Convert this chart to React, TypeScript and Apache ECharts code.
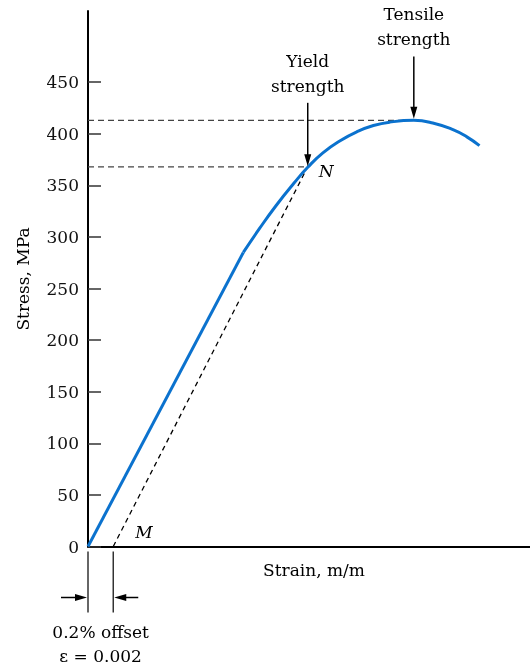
import { useEffect, useRef } from 'react';
import * as echarts from 'echarts';

// Elastic (straight) part of the curve
const elasticStrain = [0, 0.0123];
const elasticStress = [0, 285];
// Plastic (curved) part of the curve
const plasticStrain = [0.0123, 0.0136, 0.0149, 0.0163, 0.0174, 0.0186, 0.02, 0.0213, 0.0226, 0.0239, 0.0258, 0.0273, 0.0289, 0.03, 0.031];
const plasticStress = [285, 308.5, 330.5, 352, 367.5, 381.5, 393.5, 402, 408, 411.3, 413, 410.5, 404, 397, 388.5];
// 0.2% offset line M -> N
const offsetStrain = [0.002, 0.0174];
const offsetStress = [0, 368];
// Key points
const yieldStrain = 0.0174;
const yieldStress = 368;
const tensileStrain = 0.0258;
const tensileStress = 413;
const yieldArrowTail = 430;
const tensileArrowTail = 475;
const offsetValue = 0.002;
// Axis
const stressTicks = [0, 50, 100, 150, 200, 250, 300, 350, 400, 450];
const strainMax = 0.035;
const stressMax = 519;

const FONT = '"DejaVu Serif", serif';
const BLUE = '#0b72ce';
const INK = '#000';

const zip = (a: number[], b: number[]) => a.map((v, i) => [v, b[i]]);

export default function App() {
  const ref = useRef<HTMLDivElement>(null);
  useEffect(() => {
    if (!ref.current) return;
    const chart = echarts.init(ref.current, null, { renderer: 'svg' });
    chart.setOption({
      animation: false,
      grid: { left: 88, right: 0, top: 11, bottom: 121.5, containLabel: false, outerBoundsMode: 'none' },
      xAxis: {
        type: 'value',
        min: 0,
        max: strainMax,
        axisLine: { show: true, lineStyle: { color: '#000', width: 2 } },
        axisTick: { show: false },
        axisLabel: { show: false },
        splitLine: { show: false },
      },
      yAxis: {
        type: 'value',
        min: 0,
        max: stressMax,
        axisLine: { show: true, lineStyle: { color: '#000', width: 2 } },
        axisTick: { show: true, inside: true, length: 13, customValues: stressTicks, lineStyle: { color: '#333', width: 1.5 } },
        axisLabel: { customValues: stressTicks, margin: 9, fontFamily: FONT, fontSize: 17, color: '#111' },
        splitLine: { show: false },
      },
      series: [
        {
          type: 'line', data: zip(elasticStrain, elasticStress), symbol: 'none', silent: true, z: 5,
          lineStyle: { color: BLUE, width: 3 },
        },
        {
          type: 'line', data: zip(plasticStrain, plasticStress), symbol: 'none', smooth: 0.5, silent: true, z: 5,
          lineStyle: { color: BLUE, width: 3 },
        },
        {
          type: 'line', data: zip(offsetStrain, offsetStress), symbol: 'none', silent: true, z: 3,
          lineStyle: { color: '#000', width: 1.3, type: [5, 4] },
        },
        {
          type: 'line', data: [[0, yieldStress], [yieldStrain, yieldStress]], symbol: 'none', silent: true, z: 3,
          lineStyle: { color: '#444', width: 1.3, type: [6, 4] },
        },
        {
          type: 'line', data: [[0, tensileStress], [tensileStrain, tensileStress]], symbol: 'none', silent: true, z: 3,
          lineStyle: { color: '#444', width: 1.3, type: [6, 4] },
        },
      ],
    });

    const px = (x: number, y: number) => chart.convertToPixel({ gridIndex: 0 }, [x, y]) as number[];
    const [x0, axisY] = px(0, 0);
    const [x1] = px(offsetValue, 0);
    const [yx, yy] = px(yieldStrain, yieldStress);
    const [, yTail] = px(yieldStrain, yieldArrowTail);
    const [tx, ty] = px(tensileStrain, tensileStress);
    const [, tTail] = px(tensileStrain, tensileArrowTail);

    const txt = (x: number, y: number, text: string, extra: any = {}) => ({
      type: 'text', x, y, silent: true, z: 10,
      style: {
        text, fontFamily: FONT, fontSize: 17, fill: INK, align: 'center', verticalAlign: 'middle',
        ...extra,
      },
    });
    const downArrow = (x: number, y1: number, y2: number) => [
      { type: 'line', silent: true, z: 10, shape: { x1: x, y1, x2: x, y2: y2 - 10 }, style: { stroke: INK, lineWidth: 1.5 } },
      { type: 'polygon', silent: true, z: 10, shape: { points: [[x, y2], [x - 3.5, y2 - 12], [x + 3.5, y2 - 12]] }, style: { fill: INK } },
    ];
    const ay = axisY + 51;

    chart.setOption({
      graphic: [
        { ...txt(22.5, 279, 'Stress, MPa'), rotation: Math.PI / 2 },
        txt(314, 570, 'Strain, m/m'),
        txt(tx, tTail - 4.5, 'Tensile\nstrength', { verticalAlign: 'bottom', lineHeight: 25 }),
        txt(yx, yTail - 4.5, 'Yield\nstrength', { verticalAlign: 'bottom', lineHeight: 25 }),
        ...downArrow(tx, tTail, ty - 1.5),
        ...downArrow(yx, yTail, yy - 0.5),
        txt(yx + 11, yy + 4.5, 'N', { align: 'left', fontStyle: 'italic' }),
        txt(x1 + 22, axisY - 15, 'M', { align: 'left', fontStyle: 'italic' }),
        // 0.2% offset dimension
        { type: 'line', silent: true, shape: { x1: x0, y1: axisY + 5, x2: x0, y2: axisY + 66 }, style: { stroke: '#333', lineWidth: 1.5 } },
        { type: 'line', silent: true, shape: { x1: x1, y1: axisY + 5, x2: x1, y2: axisY + 66 }, style: { stroke: '#333', lineWidth: 1.5 } },
        { type: 'line', silent: true, shape: { x1: x0 - 27, y1: ay, x2: x0 - 10, y2: ay }, style: { stroke: INK, lineWidth: 1.5 } },
        { type: 'polygon', silent: true, shape: { points: [[x0 - 1, ay], [x0 - 13, ay - 3.5], [x0 - 13, ay + 3.5]] }, style: { fill: INK } },
        { type: 'line', silent: true, shape: { x1: x1 + 10, y1: ay, x2: x1 + 25, y2: ay }, style: { stroke: INK, lineWidth: 1.5 } },
        { type: 'polygon', silent: true, shape: { points: [[x1 + 1, ay], [x1 + 13, ay - 3.5], [x1 + 13, ay + 3.5]] }, style: { fill: INK } },
        txt((x0 + x1) / 2, axisY + 85, '0.2% offset'),
        txt((x0 + x1) / 2, axisY + 109, 'ε = 0.002'),
      ],
    });
    return () => chart.dispose();
  }, []);
  return <div ref={ref} style={{ position: 'fixed', left: 0, top: 0, width: 530, height: 668 }} />;
}
